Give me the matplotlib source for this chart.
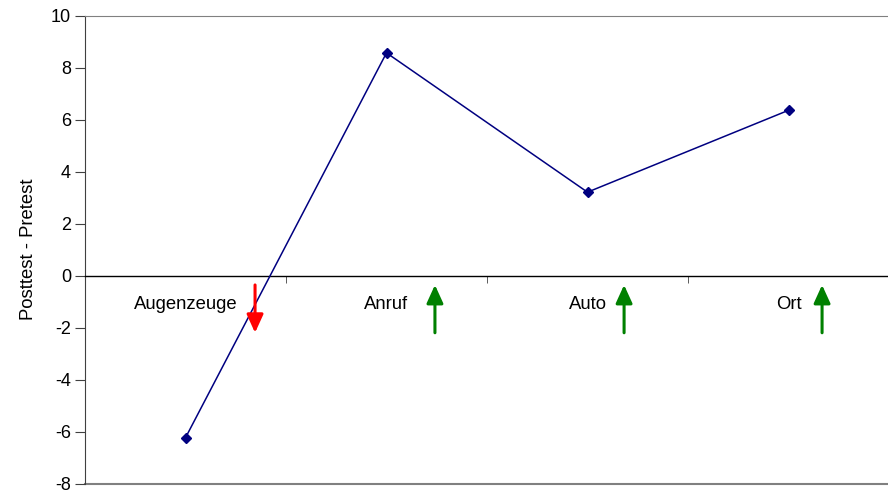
import matplotlib
matplotlib.use("Agg")
import matplotlib.pyplot as plt
from matplotlib.ticker import FixedLocator

plt.rcParams['font.family'] = ['Liberation Sans', 'DejaVu Sans']

categories = ["Augenzeuge", "Anruf", "Auto", "Ort"]
differences = [-6.24, 8.57, 3.21, 6.36]
y_ticks = [-8, -6, -4, -2, 0, 2, 4, 6, 8, 10]

# direction arrows next to each category: (x, y_start, y_end, colour)
arrow_x = [0.346, 1.241, 2.182, 3.167]
arrow_from = [-0.36, -2.2, -2.2, -2.2]
arrow_to = [-2.2, -0.36, -0.36, -0.36]
arrow_colors = ["#FF0000", "#008000", "#008000", "#008000"]

fig = plt.figure(figsize=(8.88, 4.93), dpi=100)
ax = fig.add_axes([85 / 888, 9.5 / 493, 804 / 888, 467.8 / 493])

x = list(range(len(categories)))
ax.plot(x, differences, color="#000080", lw=1.1, marker="D", markersize=5,
        markerfacecolor="#000080", markeredgecolor="#000080", zorder=3)

ax.set_xlim(-0.5, len(categories) - 0.5)
ax.set_ylim(-8, 10)
ax.set_yticks(y_ticks)
ax.set_yticklabels([str(v) for v in y_ticks])

ax.spines['bottom'].set_position(('data', 0))
ax.spines['bottom'].set_color("#000000")
ax.spines['bottom'].set_linewidth(1.0)
ax.spines['right'].set_visible(False)
ax.spines['top'].set_color("#808080")
ax.spines['left'].set_color("#404040")
ax.axhline(-8, color="#808080", lw=1.5, clip_on=False, zorder=1)

ax.set_xticks(x)
ax.set_xticklabels(categories)
ax.xaxis.set_minor_locator(FixedLocator([0.5, 1.5, 2.5]))
ax.tick_params(axis='x', which='major', length=0, pad=15, labelsize=13.3)
ax.tick_params(axis='x', which='minor', length=5, direction='out', color="#404040")
ax.tick_params(axis='y', length=7, direction='out', color="#404040", labelsize=13, pad=3)

ax.set_ylabel("Posttest - Pretest", fontsize=13.3, labelpad=10)

for ax_x, y0, y1, c in zip(arrow_x, arrow_from, arrow_to, arrow_colors):
    ax.annotate("", xy=(ax_x, y1), xytext=(ax_x, y0),
                arrowprops=dict(arrowstyle="-|>,head_length=1.1,head_width=0.5",
                                color=c, lw=2.2, shrinkA=0, shrinkB=0))

fig.savefig("out.png", dpi=100)
